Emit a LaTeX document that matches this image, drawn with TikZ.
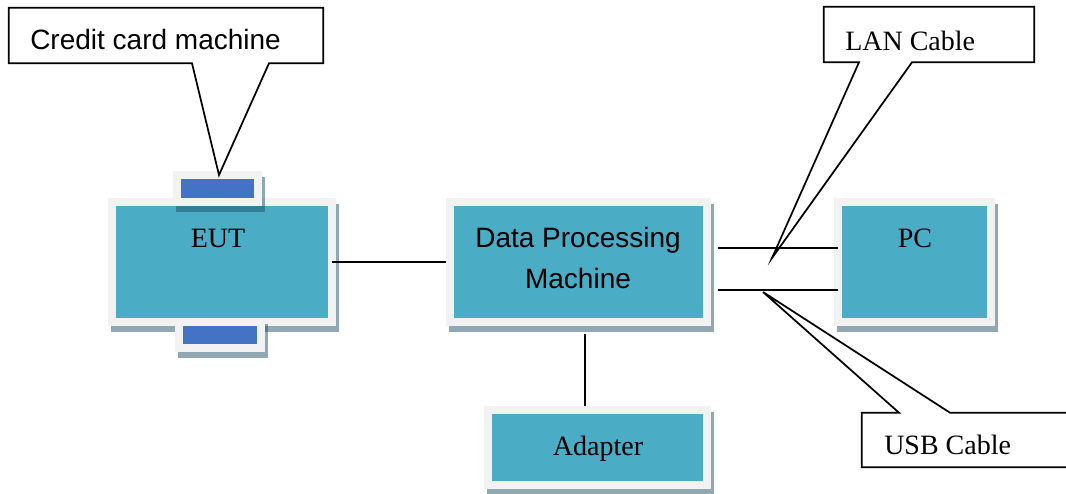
\documentclass[tikz,border=0pt]{standalone}
\usepackage{fontspec}
\setmainfont{Liberation Serif}
\setsansfont{Liberation Sans}
\usepackage{tikz}
\usetikzlibrary{calc, shadows}
\definecolor{BoxTeal}{HTML}{4BACC6}
\definecolor{FrameGray}{HTML}{F2F2F2}
\definecolor{CardBlue}{HTML}{4472C4}
\definecolor{ShadeSlate}{HTML}{1F5169}

\begin{document}
\begin{tikzpicture}[
      x=0.75pt, y=-0.75pt,
      unit/.style={rectangle, inner sep=0pt, fill=FrameGray,
        drop shadow={shadow xshift=2.25pt, shadow yshift=-4.5pt, fill=ShadeSlate, opacity=0.5},
        path picture={\fill[#1] ([shift={(6pt,-6pt)}]path picture bounding box.north west)
          rectangle ([shift={(-6pt,6pt)}]path picture bounding box.south east);}},
      unit/.default=BoxTeal,
      tag/.style={rectangle, inner sep=0pt},
      tagline/.style={draw=black, fill=white, line width=1.3pt},
      word/.style={inner sep=0pt, font=\fontsize{21}{25}\selectfont},
      wire/.style={black, line width=1.3pt}
  ]
    \useasboundingbox (0,0) rectangle (1066,493);
    \clip (0,0) rectangle (1066,493);
    % units
    \node[unit, minimum width=171pt, minimum height=96pt](eut) at (222,262){};
    \node[unit=CardBlue, minimum width=66.75pt, minimum height=26.25pt](slottop) at (217.5,188.5){};
    \node[unit=CardBlue, minimum width=67.5pt, minimum height=25.5pt](slotbot) at (220,335){};
    \node[unit, minimum width=198.75pt, minimum height=96pt](dpm) at (578.5,262){};
    \node[unit, minimum width=120.75pt, minimum height=96pt](pc) at (914.5,262){};
    \node[unit, minimum width=170.25pt, minimum height=62.25pt](adp) at (597.5,447.5){};
    \node[word, anchor=base](euttxt) at (218,247){EUT};
    \node[word, anchor=base](pctxt) at (915,247){PC};
    \node[word, anchor=base](adptxt) at (598,455){Adapter};
    \node[word, font=\sffamily\fontsize{21}{30.75}\selectfont, align=center](dpmtxt) at (578,257.5){Data Processing\\Machine};
    % callouts
    \node[tag, minimum width=235.5pt, minimum height=41.25pt](ccm) at (166,35.5){};
    \coordinate (ccmtip) at (219,175);
    \draw[tagline] (ccm.north west) -- (ccm.north east) -- (ccm.south east) -- (ccm.south -| 269,0)
      -- (ccmtip) -- (ccm.south -| 192,0) -- (ccm.south west) -- cycle;
    \node[word, font=\sffamily\fontsize{21}{25}\selectfont, anchor=base west](ccmtxt) at (30,49){Credit card machine};
    \node[tag, minimum width=157.5pt, minimum height=41.25pt](lan) at (929,34.5){};
    \coordinate (lantip) at (772,258);
    \draw[tagline] (lan.north west) -- (lan.north east) -- (lan.south east) -- (lan.south -| 912,0)
      -- (lantip) -- (lan.south -| 859,0) -- (lan.south west) -- cycle;
    \node[word, anchor=base west](lantxt) at (845,50){LAN Cable};
    \node[tag, minimum width=163.5pt, minimum height=40.5pt](usb) at (971,440){};
    \coordinate (usbtip) at (763,292);
    \draw[tagline] (usb.north west) -- (usb.north -| 899,0) -- (usbtip) -- (usb.north -| 950,0)
      -- (usb.north east) -- (usb.south east) -- (usb.south west) -- cycle;
    \node[word, anchor=base west](usbtxt) at (884,454){USB Cable};
    % wires
    \draw[wire, shorten <=-3pt] (eut) -- (dpm);
    \draw[wire, shorten <=5.25pt, shorten >=-3pt] ([yshift=10.5pt]dpm.east) -- ([yshift=10.5pt]pc.west);
    \draw[wire, shorten <=5.25pt, shorten >=-3pt] ([yshift=-21pt]dpm.east) -- ([yshift=-21pt]pc.west);
    \draw[wire, shorten <=6pt] ([xshift=4.875pt]dpm.south) -- ([xshift=4.875pt]dpm.south |- adp.north);
  \end{tikzpicture}
\end{document}
